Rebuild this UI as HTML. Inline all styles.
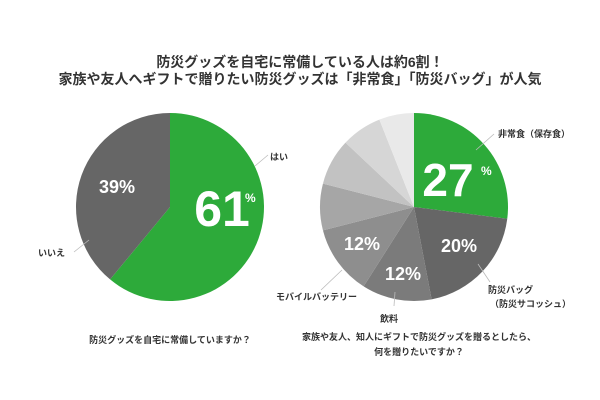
<!DOCTYPE html>
<html><head><meta charset="utf-8"><style>
body{margin:0;background:#fff;}
svg{display:block;font-family:"Liberation Sans","Noto Sans CJK JP",sans-serif;}
</style></head><body>
<svg width="600" height="400" viewBox="0 0 600 400">
<g font-weight="bold" fill="#333" text-anchor="middle" font-size="14">
<text x="300" y="67">防災グッズを自宅に常備している人は約6割！</text>
<text x="300" y="84">家族や友人へギフトで贈りたい防災グッズは「非常食」「防災バッグ」が人気</text>
</g>
<g id="left"></g><g id="right"></g>
<g stroke="#bbb" stroke-width="0.8">
<line x1="255" y1="166" x2="268" y2="155"/><line x1="74" y1="252" x2="89" y2="240"/>
<line x1="476" y1="150" x2="494" y2="134"/><line x1="478" y1="264" x2="490" y2="282"/>
<line x1="395" y1="292" x2="394" y2="306"/><line x1="342" y1="270" x2="321" y2="290"/>
</g>
<g font-size="9" fill="#333" font-weight="bold">
<text x="270" y="160">はい</text>
<text x="38" y="256">いいえ</text>
<text x="498" y="137">非常食（保存食）</text>
<text x="488" y="293">防災バッグ</text>
<text x="490" y="307">（防災サコッシュ）</text>
<text x="380" y="322">飲料</text>
<text x="357" y="300" text-anchor="end">モバイルバッテリー</text>
</g>
<g fill="#fff" font-weight="bold">
<text x="222" y="226" font-size="50" text-anchor="middle">61</text>
<text x="245" y="202" font-size="12">%</text>
<text x="117" y="193" font-size="18" text-anchor="middle">39%</text>
<text x="448" y="196" font-size="46" text-anchor="middle">27</text>
<text x="481" y="175" font-size="12">%</text>
<text x="459" y="252" font-size="18" text-anchor="middle">20%</text>
<text x="403" y="280" font-size="18" text-anchor="middle">12%</text>
<text x="362" y="250" font-size="18" text-anchor="middle">12%</text>
</g>
<g font-size="9" fill="#333" font-weight="bold" text-anchor="middle">
<text x="170" y="343">防災グッズを自宅に常備していますか？</text>
<text x="419" y="340">家族や友人、知人にギフトで防災グッズを贈るとしたら、</text>
<text x="419" y="355">何を贈りたいですか？</text>
</g>
</svg>
<script>
const leftValues=[61,39];
const leftNames=['yes','no'];
const leftColors=['#2daa3a','#666666'];
const rightValues=[27,20,12,12,8,8,7,6];
const rightNames=['emergency-food','disaster-bag','drinks','mobile-battery','other-1','other-2','other-3','other-4'];
const rightColors=['#2daa3a','#666666','#7b7b7b','#8e8e8e','#a6a6a6','#c2c2c2','#d6d6d6','#e9e9e9'];
function pie(gid,vals,names,cols,cx,cy,r){
 const g=document.getElementById(gid);
 const tot=vals.reduce((a,b)=>a+b,0);let a=0;
 vals.forEach((v,i)=>{
  const a0=a/tot*2*Math.PI;a+=v;const a1=a/tot*2*Math.PI;
  const x0=cx+r*Math.sin(a0),y0=cy-r*Math.cos(a0),x1=cx+r*Math.sin(a1),y1=cy-r*Math.cos(a1);
  const p=document.createElementNS('http://www.w3.org/2000/svg','path');
  p.setAttribute('d',`M${cx},${cy}L${x0},${y0}A${r},${r} 0 ${(a1-a0)>Math.PI?1:0} 1 ${x1},${y1}Z`);
  p.setAttribute('fill',cols[i]);
  
  
  g.appendChild(p);
 });
}
pie('left',leftValues,leftNames,leftColors,170,207,94);
pie('right',rightValues,rightNames,rightColors,414,207,94);
</script>
</body></html>
